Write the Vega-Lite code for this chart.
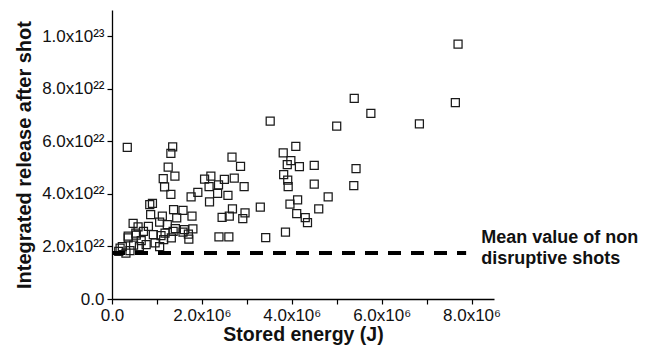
{
  "$schema": "https://vega.github.io/schema/vega-lite/v6.json",
  "autosize": {"type": "none"},
  "width": 382,
  "height": 289,
  "padding": {"left": 112, "top": 10, "right": 152, "bottom": 60},
  "config": {
    "view": {"stroke": null},
    "font": "Liberation Sans",
    "axis": {
      "domainColor": "#000000",
      "domainWidth": 1.3,
      "tickColor": "#000000",
      "tickWidth": 1.2,
      "tickSize": 5,
      "labelColor": "#111111",
      "labelFont": "Liberation Sans",
      "labelFontSize": 17,
      "labelFlush": false,
      "titleFont": "Liberation Sans",
      "titleFontWeight": "bold",
      "titleColor": "#111111",
      "grid": false
    }
  },
  "datasets": {
    "shots": [
      {"energy": 7.70e6, "release": 9.70e22}, {"energy": 7.64e6, "release": 7.47e22},
      {"energy": 6.84e6, "release": 6.67e22}, {"energy": 5.39e6, "release": 7.64e22},
      {"energy": 5.76e6, "release": 7.07e22}, {"energy": 5.00e6, "release": 6.58e22},
      {"energy": 4.09e6, "release": 5.81e22}, {"energy": 3.81e6, "release": 5.56e22},
      {"energy": 3.98e6, "release": 5.27e22}, {"energy": 3.90e6, "release": 5.11e22},
      {"energy": 4.17e6, "release": 5.04e22}, {"energy": 4.50e6, "release": 5.09e22},
      {"energy": 5.43e6, "release": 4.96e22}, {"energy": 3.82e6, "release": 4.73e22},
      {"energy": 3.91e6, "release": 4.52e22}, {"energy": 3.92e6, "release": 4.28e22},
      {"energy": 4.50e6, "release": 4.37e22}, {"energy": 5.38e6, "release": 4.32e22},
      {"energy": 4.81e6, "release": 3.89e22}, {"energy": 4.13e6, "release": 3.77e22},
      {"energy": 3.96e6, "release": 3.61e22}, {"energy": 4.60e6, "release": 3.43e22},
      {"energy": 4.11e6, "release": 3.25e22}, {"energy": 4.30e6, "release": 3.10e22},
      {"energy": 4.35e6, "release": 2.91e22}, {"energy": 3.86e6, "release": 2.55e22},
      {"energy": 3.52e6, "release": 6.77e22}, {"energy": 3.42e6, "release": 2.34e22},
      {"energy": 3.30e6, "release": 3.50e22},
      {"energy": 2.67e6, "release": 5.40e22}, {"energy": 2.86e6, "release": 5.05e22},
      {"energy": 2.20e6, "release": 4.68e22}, {"energy": 2.06e6, "release": 4.56e22},
      {"energy": 2.50e6, "release": 4.55e22}, {"energy": 2.72e6, "release": 4.60e22},
      {"energy": 2.16e6, "release": 4.28e22}, {"energy": 2.37e6, "release": 4.34e22},
      {"energy": 2.94e6, "release": 4.28e22}, {"energy": 1.91e6, "release": 4.06e22},
      {"energy": 1.76e6, "release": 3.89e22}, {"energy": 2.35e6, "release": 4.02e22},
      {"energy": 2.58e6, "release": 3.94e22}, {"energy": 2.17e6, "release": 3.70e22},
      {"energy": 2.68e6, "release": 3.43e22}, {"energy": 2.96e6, "release": 3.28e22},
      {"energy": 2.45e6, "release": 3.11e22}, {"energy": 2.61e6, "release": 3.15e22},
      {"energy": 2.91e6, "release": 3.06e22}, {"energy": 1.78e6, "release": 3.15e22},
      {"energy": 1.80e6, "release": 2.67e22}, {"energy": 2.38e6, "release": 2.36e22},
      {"energy": 2.60e6, "release": 2.36e22}, {"energy": 1.58e6, "release": 3.37e22},
      {"energy": 1.44e6, "release": 3.09e22}, {"energy": 1.61e6, "release": 2.64e22},
      {"energy": 1.70e6, "release": 2.47e22}, {"energy": 1.71e6, "release": 2.28e22},
      {"energy": 0.34e6, "release": 5.77e22}, {"energy": 1.35e6, "release": 5.79e22},
      {"energy": 1.31e6, "release": 5.54e22}, {"energy": 1.25e6, "release": 5.02e22},
      {"energy": 1.40e6, "release": 4.68e22}, {"energy": 1.14e6, "release": 4.58e22},
      {"energy": 1.17e6, "release": 4.27e22}, {"energy": 1.31e6, "release": 3.98e22},
      {"energy": 1.37e6, "release": 3.40e22}, {"energy": 0.90e6, "release": 3.64e22},
      {"energy": 0.84e6, "release": 3.59e22}, {"energy": 0.86e6, "release": 3.21e22},
      {"energy": 1.12e6, "release": 3.15e22}, {"energy": 0.47e6, "release": 2.88e22},
      {"energy": 0.81e6, "release": 2.76e22}, {"energy": 1.06e6, "release": 2.93e22},
      {"energy": 1.23e6, "release": 2.83e22}, {"energy": 0.70e6, "release": 2.57e22},
      {"energy": 0.92e6, "release": 2.45e22}, {"energy": 1.18e6, "release": 2.51e22},
      {"energy": 1.36e6, "release": 2.57e22}, {"energy": 1.41e6, "release": 2.68e22},
      {"energy": 0.36e6, "release": 2.39e22}, {"energy": 0.54e6, "release": 2.43e22},
      {"energy": 1.15e6, "release": 2.26e22}, {"energy": 1.32e6, "release": 2.33e22},
      {"energy": 0.48e6, "release": 2.05e22}, {"energy": 0.61e6, "release": 1.99e22},
      {"energy": 0.18e6, "release": 1.94e22}, {"energy": 0.40e6, "release": 1.84e22},
      {"energy": 0.31e6, "release": 1.75e22}, {"energy": 0.15e6, "release": 1.81e22},
      {"energy": 1.06e6, "release": 1.99e22}, {"energy": 1.58e6, "release": 2.55e22},
      {"energy": 1.09e6, "release": 2.41e22}, {"energy": 0.53e6, "release": 2.51e22},
      {"energy": 0.36e6, "release": 2.33e22}, {"energy": 0.65e6, "release": 2.22e22},
      {"energy": 0.76e6, "release": 2.07e22}, {"energy": 0.96e6, "release": 2.14e22},
      {"energy": 0.23e6, "release": 1.99e22}, {"energy": 0.58e6, "release": 2.75e22}
    ],
    "reference": [
      {"x_start": 0, "x_end": 7.88e6, "mean": 1.75e22, "label": ["Mean value of non", "disruptive shots"]}
    ]
  },
  "layer": [
    {
      "data": {"name": "shots"},
      "mark": {"type": "point", "shape": "square", "filled": false, "size": 64, "stroke": "#1a1a1a", "strokeWidth": 1.25, "opacity": 1},
      "encoding": {
        "x": {
          "field": "energy", "type": "quantitative",
          "scale": {"domain": [0, 8.5e6], "nice": false, "zero": false},
          "axis": {
            "title": "Stored energy (J)",
            "titleFontSize": 19.5,
            "values": [0, 1e6, 2e6, 3e6, 4e6, 5e6, 6e6, 7e6, 8e6],
            "labelExpr": "datum.value == 0 ? '0.0' : (round(datum.value / 1e6) % 2 == 0 ? format(datum.value / 1e6, '.1f') + 'x10⁶' : '')",
            "labelPadding": 3,
            "titlePadding": 2.5
          }
        },
        "y": {
          "field": "release", "type": "quantitative",
          "scale": {"domain": [0, 1.1e23], "nice": false, "zero": false},
          "axis": {
            "title": "Integrated release after shot",
            "titleFontSize": 20,
            "values": [0, 1e22, 2e22, 3e22, 4e22, 5e22, 6e22, 7e22, 8e22, 9e22, 1e23],
            "labelExpr": "datum.value == 0 ? '0.0' : (round(datum.value / 1e22) % 2 != 0 ? '' : (datum.value > 9.9e22 ? format(datum.value / 1e23, '.1f') + 'x10²³' : format(datum.value / 1e22, '.1f') + 'x10²²'))",
            "labelPadding": 3,
            "titlePadding": 7
          }
        }
      }
    },
    {
      "data": {"name": "reference"},
      "mark": {"type": "rule", "stroke": "#000000", "strokeWidth": 4, "strokeDash": [13, 10], "strokeCap": "butt"},
      "encoding": {
        "x": {"field": "x_start", "type": "quantitative"},
        "x2": {"field": "x_end"},
        "y": {"field": "mean", "type": "quantitative"}
      }
    },
    {
      "data": {"name": "reference"},
      "mark": {"type": "text", "align": "left", "baseline": "alphabetic", "dx": 15, "dy": -10, "fontSize": 18, "fontWeight": "bold", "lineHeight": 21, "color": "#111111", "font": "Liberation Sans"},
      "encoding": {
        "x": {"field": "x_end", "type": "quantitative"},
        "y": {"field": "mean", "type": "quantitative"},
        "text": {"field": "label"}
      }
    }
  ]
}
